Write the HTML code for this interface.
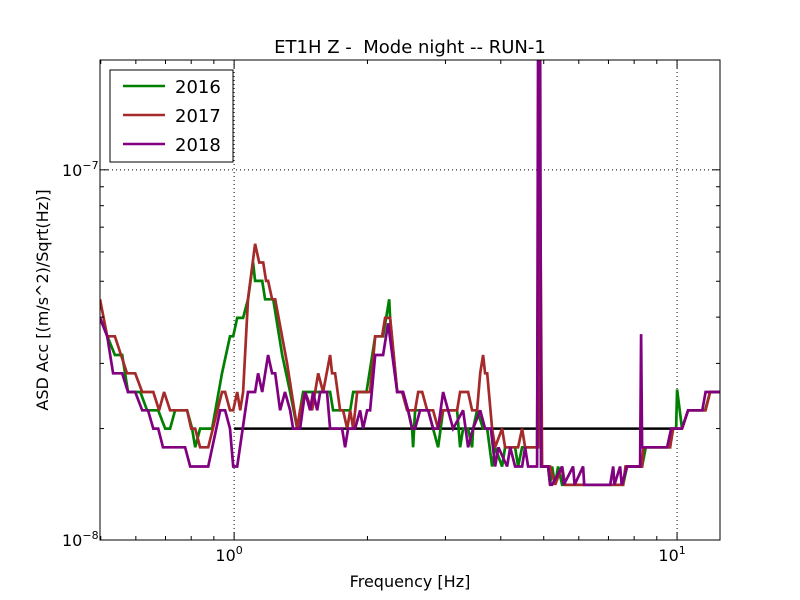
<!DOCTYPE html>
<html><head><meta charset="utf-8"><style>
body{margin:0;background:#fff;}
svg{display:block;font-family:"DejaVu Sans","Liberation Sans",sans-serif;}
</style></head><body>
<svg id="chart" width="800" height="600" viewBox="0 0 800 600">
<defs><clipPath id="plotclip"><rect x="100" y="60" width="620" height="480"/></clipPath></defs>
<rect x="0" y="0" width="800" height="600" fill="#fff"/>
<text x="410" y="53" text-anchor="middle" font-size="18" xml:space="preserve">ET1H Z -  Mode night -- RUN-1</text>
<g id="grid"></g>
<g id="series" clip-path="url(#plotclip)"></g>
<rect x="100" y="60" width="620" height="480" fill="none" stroke="#000" stroke-width="1"/>
<g id="ticks"></g>
<text x="410" y="587" text-anchor="middle" font-size="16">Frequency [Hz]</text>
<text transform="translate(48,300) rotate(-90)" text-anchor="middle" font-size="16">ASD Acc [(m/s^2)/Sqrt(Hz)]</text>
<g>
<rect x="110" y="70" width="123" height="92" fill="#fff" stroke="#000" stroke-width="1"/>
<line x1="123" y1="86" x2="165" y2="86" stroke="#008000" stroke-width="2.5"/>
<text x="175" y="93" font-size="18">2016</text>
<line x1="123" y1="115" x2="165" y2="115" stroke="#a52a2a" stroke-width="2.5"/>
<text x="175" y="122" font-size="18">2017</text>
<line x1="123" y1="144" x2="165" y2="144" stroke="#800080" stroke-width="2.5"/>
<text x="175" y="151" font-size="18">2018</text>
</g>
</svg>
<script>
const E=1e-8;
const f2016=[0.498,0.538,0.559,0.576,0.614,0.636,0.674,0.699,0.717,0.736,0.783,0.804,0.817,0.838,0.892,0.939,0.979,0.995,1.016,1.048,1.075,1.104,1.115,1.157,1.175,1.225,1.284,1.338,1.388,1.409,1.431,1.564,1.647,1.673,1.717,1.762,1.828,1.857,1.925,1.99,2.082,2.169,2.239,2.25,2.334,2.395,2.471,2.523,2.536,2.562,2.63,2.742,2.814,2.888,2.964,3.187,3.237,3.288,3.375,3.446,3.464,3.537,3.649,3.726,3.824,3.884,4.027,4.09,4.309,4.377,4.469,4.61,4.831,4.881,4.932,5.115,5.168,5.222,5.304,5.388,5.5,6.04,7.062,7.285,7.553,7.712,8.339,8.5,9.642,9.7,9.95,10,10.26,10.59,11.57,11.87,12.5];
const v2016=[3.98,3.16,3.16,2.51,2.51,2.24,2.24,2.0,2.0,2.24,2.24,2.0,1.78,2.0,2.0,2.82,3.55,3.55,3.98,3.98,4.47,5.62,5.01,5.01,4.47,4.47,3.16,2.51,2.0,2.24,2.51,2.51,2.51,2.24,2.24,2.24,2.24,2.51,2.51,2.51,3.55,3.55,4.47,3.98,2.51,2.51,2.24,2.0,1.78,2.24,2.24,2.24,2.0,1.78,2.24,2.24,1.78,2.0,2.0,1.78,2.0,2.24,2.0,2.0,1.58,1.78,1.58,1.78,1.78,1.58,1.78,1.78,1.78,25,1.58,1.58,1.41,1.58,1.41,1.58,1.41,1.41,1.41,1.41,1.41,1.58,1.58,1.78,1.78,2.0,2.0,2.55,2.0,2.24,2.24,2.51,2.51];
const f2017=[0.498,0.517,0.538,0.573,0.598,0.620,0.657,0.677,0.695,0.717,0.783,0.800,0.817,0.838,0.874,0.939,0.954,0.979,0.995,1.016,1.032,1.048,1.075,1.115,1.139,1.163,1.181,1.193,1.218,1.238,1.317,1.388,1.409,1.446,1.5,1.548,1.588,1.647,1.664,1.69,1.735,1.762,1.8,1.828,1.857,1.896,2.028,2.082,2.158,2.192,2.25,2.334,2.395,2.458,2.562,2.603,2.658,2.728,2.814,2.888,2.964,3.187,3.237,3.375,3.446,3.537,3.593,3.649,3.687,3.726,3.824,3.884,4.027,4.09,4.377,4.469,4.539,4.856,4.881,4.957,5.168,5.304,5.5,5.587,7.437,7.553,7.65,8.339,8.4,9.642,9.8,10.1,10.26,10.59,11.6,11.87,12.5];
const v2017=[4.47,3.55,3.55,2.82,2.82,2.51,2.51,2.24,2.51,2.24,2.24,2.0,2.0,1.78,1.78,2.51,2.51,2.24,2.24,2.51,2.24,2.51,4.47,6.31,5.62,5.62,5.01,5.01,4.47,4.47,3.0,2.0,2.24,2.51,2.24,2.82,2.51,3.16,2.82,2.82,2.24,2.24,2.0,2.24,2.0,2.51,2.51,3.55,3.55,3.98,3.98,2.51,2.51,2.24,2.24,2.51,2.51,2.24,2.24,2.0,2.24,2.24,2.51,2.51,2.24,2.24,2.82,3.16,2.82,2.82,2.0,1.78,2.0,1.78,1.78,2.0,1.78,1.78,25,1.58,1.58,1.41,1.58,1.41,1.41,1.41,1.58,1.58,1.78,1.78,2.0,2.0,2.0,2.24,2.24,2.51,2.51];
const f2018=[0.498,0.517,0.533,0.559,0.576,0.598,0.620,0.639,0.657,0.674,0.691,0.775,0.796,0.874,0.93,0.954,0.979,0.995,1.016,1.075,1.115,1.133,1.157,1.193,1.218,1.238,1.27,1.303,1.338,1.359,1.409,1.446,1.484,1.508,1.54,1.564,1.621,1.647,1.753,1.781,1.809,1.876,1.925,1.955,1.996,2.028,2.082,2.169,2.227,2.334,2.407,2.471,2.523,2.562,2.63,2.742,2.814,2.888,2.964,3.042,3.122,3.288,3.375,3.464,3.593,3.687,3.8,3.884,3.95,4.133,4.2,4.309,4.469,4.539,4.61,4.831,4.856,4.906,4.932,5.115,5.168,5.222,5.5,5.55,5.825,5.87,6.135,6.17,7.062,7.173,7.22,7.437,7.5,7.712,8.253,8.296,8.339,9.493,9.7,10,10.26,10.59,11.4,11.6,12.5];
const v2018=[3.98,3.55,2.82,2.82,2.51,2.51,2.24,2.24,2.0,2.0,1.78,1.78,1.58,1.58,2.24,2.24,2.0,1.58,1.58,2.51,2.51,2.82,2.51,3.16,2.82,2.82,2.24,2.51,2.24,2.0,2.0,2.51,2.24,2.51,2.24,2.51,2.51,2.0,2.0,1.78,2.0,2.0,2.24,2.0,2.24,2.24,3.16,3.16,3.85,2.51,2.51,2.24,2.0,2.0,2.24,2.24,2.0,2.0,2.51,2.24,2.0,2.24,1.78,2.0,2.24,2.0,2.0,1.58,1.78,1.58,1.78,1.58,1.58,1.78,1.58,1.58,25,25,1.58,1.58,1.41,1.41,1.58,1.41,1.58,1.41,1.58,1.41,1.41,1.58,1.41,1.58,1.41,1.58,1.58,3.6,1.78,1.78,2.0,2.0,2.0,2.24,2.24,2.51,2.51];
const refFreq=[1,10];
const refVal=[2.0,2.0];
const xMajor=[1,10];
const yMajor=[1e-8,1e-7];

const X0=100,X1=720,Y0=60,Y1=540;
const XMIN=Math.log10(0.498),XMAX=Math.log10(12.5);
const YMIN=-8,YMAX=Math.log10(1.98e-7);
const sx=f=>X0+(Math.log10(f)-XMIN)/(XMAX-XMIN)*(X1-X0);
const sy=v=>Y1-(Math.log10(v)-YMIN)/(YMAX-YMIN)*(Y1-Y0);
const NS='http://www.w3.org/2000/svg';
function mk(tag,attrs,parent){const el=document.createElementNS(NS,tag);for(const k in attrs)el.setAttribute(k,attrs[k]);parent.appendChild(el);return el;}

const grid=document.getElementById('grid');
xMajor.forEach(f=>{const l=mk('line',{x1:sx(f),x2:sx(f),y1:Y0,y2:Y1,stroke:'#000','stroke-width':1,'stroke-dasharray':'1,3'},grid);

});
yMajor.forEach(v=>{const l=mk('line',{x1:X0,x2:X1,y1:sy(v),y2:sy(v),stroke:'#000','stroke-width':1,'stroke-dasharray':'1,3'},grid);

});

const ser=document.getElementById('series');
function drawLine(fs,vs,color,name,w){
  const pts=fs.map((f,i)=>sx(f).toFixed(1)+','+sy(vs[i]*E).toFixed(1)).join(' ');
  const p=mk('polyline',{points:pts,fill:'none',stroke:color,'stroke-width':w,'stroke-linejoin':'miter','stroke-miterlimit':3},ser);
  
  
}
drawLine(refFreq,refVal,'#000','reference-line',2.5);
drawLine(f2016,v2016,'#008000','series-2016',2.7);
drawLine(f2017,v2017,'#a52a2a','series-2017',2.7);
drawLine(f2018,v2018,'#800080','series-2018',2.7);

const tk=document.getElementById('ticks');
function tick(x1,y1,x2,y2){const l=mk('line',{x1,y1,x2,y2,stroke:'#000','stroke-width':1},tk);

}
for(let d=-1;d<=1;d++){for(let m=1;m<10;m++){const f=m*Math.pow(10,d);const x=sx(f);if(x<X0-0.5||x>X1+0.5)continue;const L=m===1?8:4;tick(x,Y1,x,Y1-L);tick(x,Y0,x,Y0+L);}}
for(let d=-8;d<=-7;d++){for(let m=1;m<10;m++){const v=m*Math.pow(10,d);const y=sy(v);if(y<Y0-0.5||y>Y1+0.5)continue;const L=m===1?8:4;tick(X0,y,X0+L,y);tick(X1,y,X1-L,y);}}
function powLabel(x,y,exp,anchor,name){
  const t=mk('text',{x,y,'font-size':16,'text-anchor':anchor},tk);
  
  
  const a=mk('tspan',{},t);a.textContent='10';
  const b=mk('tspan',{dy:-7,'font-size':11},t);b.textContent=exp;
}
powLabel(sx(1)-5,561,'0','middle','x-tick-label-1');
powLabel(sx(10)-5,561,'1','middle','x-tick-label-10');
powLabel(62,sy(1e-8)+6,'−8','start','y-tick-label-1e-8');
powLabel(62,sy(1e-7)+6,'−7','start','y-tick-label-1e-7');
</script>
</body></html>
